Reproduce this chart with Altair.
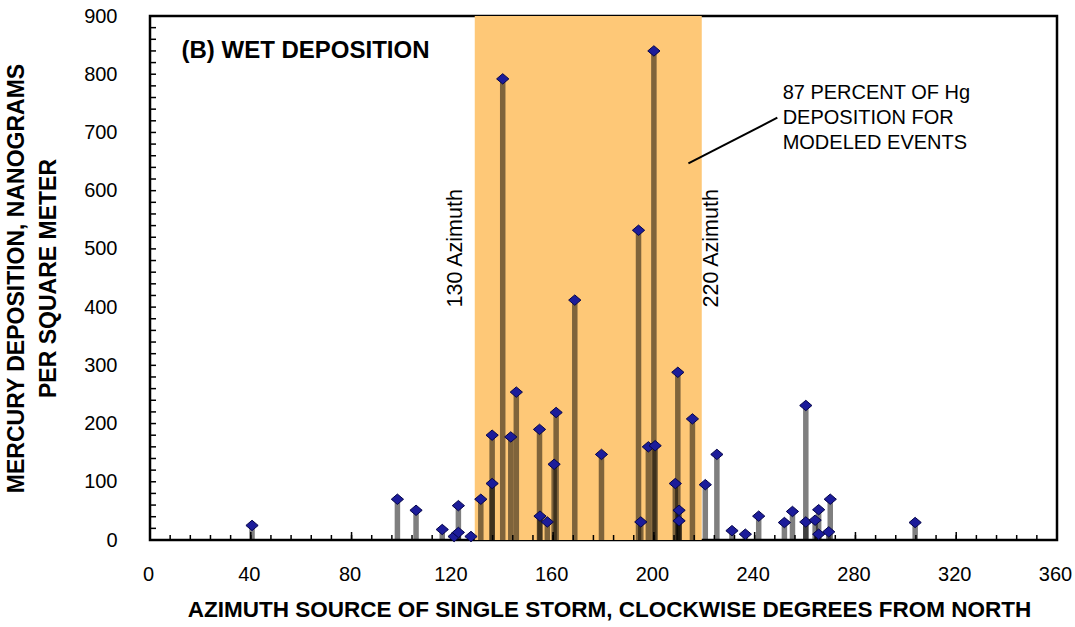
import altair as alt
import pandas as pd

# Data
azimuth = [40.5, 98.2, 105.6, 116.0, 120.7, 122.4, 122.4, 127.4, 131.3, 135.8,
           135.8, 140.0, 143.2, 145.4, 154.6, 154.8, 157.7, 160.4, 161.2, 168.6,
           179.2, 193.9, 194.8, 197.8, 200.0, 200.5, 208.5, 209.5, 210.0, 210.0,
           215.3, 220.4, 225.0, 231.0, 236.3, 241.6, 251.8, 255.0, 260.3, 260.3,
           264.0, 265.4, 265.4, 269.4, 270.0, 303.7]
deposition = [25, 70, 51, 18, 6, 59, 13, 6, 70, 180,
              97, 792, 177, 254, 190, 41, 31, 130, 219, 412,
              147, 532, 31, 160, 840, 162, 97, 288, 51, 33,
              208, 95, 147, 16, 10, 41, 30, 49, 231, 31,
              34, 52, 10, 14, 70, 30]

# shaded sector (as drawn)
band_start = [128.9]
band_end = [219.0]

x_label_values = [0, 40, 80, 120, 160, 200, 240, 280, 320, 360]
y_label_values = [0, 100, 200, 300, 400, 500, 600, 700, 800, 900]
x_minor_ticks = list(range(0, 361, 8))
y_minor_ticks = list(range(0, 901, 20))

FONT = "Liberation Sans"
W, H = 907, 524

df = pd.DataFrame({"az": azimuth, "dep": deposition})
band_df = pd.DataFrame({"start": band_start, "end": band_end})
xt_minor = pd.DataFrame({"t": x_minor_ticks})
xt_major = pd.DataFrame({"t": x_label_values})
yt_minor = pd.DataFrame({"t": y_minor_ticks})

xscale = alt.Scale(domain=[0, 360], nice=False, zero=False)
yscale = alt.Scale(domain=[0, 900], nice=False)

xaxis = alt.Axis(
    values=x_label_values, domain=False, ticks=False, grid=False,
    labelFont=FONT, labelFontSize=20, labelColor="black", labelPadding=24,
    labelBaseline="top", labelFlush=False, labelOffset=-2,
    title="AZIMUTH SOURCE OF SINGLE STORM, CLOCKWISE DEGREES FROM NORTH",
    titleFont=FONT, titleFontSize=22.5, titleFontWeight="bold", titleColor="black",
    titleBaseline="top", titleX=459, titleY=58, titleAnchor="middle",
)
yaxis = alt.Axis(
    values=y_label_values, domain=False, ticks=False, grid=False,
    labelFont=FONT, labelFontSize=20, labelColor="black", labelPadding=33,
    labelFlush=False,
    title=["MERCURY DEPOSITION, NANOGRAMS", "PER SQUARE METER"],
    titleFont=FONT, titleFontSize=23, titleFontWeight="bold", titleColor="black",
    titleLineHeight=32, titleBaseline="top", titleX=-145, titleY=262,
    titleAngle=270, titleAlign="center",
)

band = alt.Chart(band_df).mark_rect(color="#FEC877", opacity=1).encode(
    x=alt.X("start:Q", scale=xscale, axis=xaxis),
    x2="end:Q",
    y=alt.Y(datum=0, scale=yscale, axis=yaxis),
    y2=alt.datum(900),
)

stems = alt.Chart(df).mark_rule(color="black", opacity=0.5, strokeWidth=5.5).encode(
    x=alt.X("az:Q", scale=xscale),
    y=alt.Y("dep:Q", scale=yscale),
    y2=alt.datum(0),
)

xticks_minor = alt.Chart(xt_minor).mark_rule(color="black", strokeWidth=1.5).encode(
    x=alt.X("t:Q", scale=xscale), y=alt.value(H), y2=alt.value(H - 5),
)
xticks_major = alt.Chart(xt_major).mark_rule(color="black", strokeWidth=1.5).encode(
    x=alt.X("t:Q", scale=xscale), y=alt.value(H), y2=alt.value(H - 8),
)
yticks = alt.Chart(yt_minor).mark_rule(color="black", strokeWidth=1.5).encode(
    y=alt.Y("t:Q", scale=yscale), x=alt.value(0), x2=alt.value(6),
)

points = alt.Chart(df).mark_point(
    shape="M -1 0 L 0 -0.85 L 1 0 L 0 0.85 Z", filled=True, size=150,
    color="#1c1c9a", stroke="#05054a", strokeWidth=1, opacity=1,
).encode(
    x=alt.X("az:Q", scale=xscale),
    y=alt.Y("dep:Q", scale=yscale),
)

title_df = pd.DataFrame({"x": [12.5], "y": [828], "label": ["(B) WET DEPOSITION"]})
title_text = alt.Chart(title_df).mark_text(
    font=FONT, fontSize=24, fontWeight="bold", align="left",
    baseline="alphabetic", color="black",
).encode(x=alt.X("x:Q", scale=xscale), y=alt.Y("y:Q", scale=yscale), text="label:N")

az_df = pd.DataFrame({"x": [121.6, 223.0], "y": [501, 501],
                      "label": ["130 Azimuth", "220 Azimuth"]})
az_text = alt.Chart(az_df).mark_text(
    font=FONT, fontSize=21.5, angle=270, align="center", baseline="middle",
    color="black",
).encode(x=alt.X("x:Q", scale=xscale), y=alt.Y("y:Q", scale=yscale), text="label:N")

note_df = pd.DataFrame({"x": [251.1], "y": [757.5],
                        "label": ["87 PERCENT OF Hg\nDEPOSITION FOR\nMODELED EVENTS"]})
note_text = alt.Chart(note_df).mark_text(
    font=FONT, fontSize=20, align="left", baseline="alphabetic",
    lineBreak="\n", lineHeight=25, color="black",
).encode(x=alt.X("x:Q", scale=xscale), y=alt.Y("y:Q", scale=yscale), text="label:N")

leader_df = pd.DataFrame({"x1": [213.7], "y1": [647], "x2": [249.0], "y2": [725.4]})
leader = alt.Chart(leader_df).mark_rule(color="black", strokeWidth=2).encode(
    x=alt.X("x1:Q", scale=xscale), y=alt.Y("y1:Q", scale=yscale),
    x2="x2:Q", y2="y2:Q",
)

chart = alt.layer(
    band, stems, xticks_minor, xticks_major, yticks, points,
    title_text, az_text, note_text, leader
).properties(
    width=W, height=H,
    autosize=alt.AutoSizeParams(type="none"),
    padding={"left": 150, "top": 16, "right": 18, "bottom": 87},
    background="white",
).configure_view(
    stroke="black", strokeWidth=2.5,
)

chart.save("out.html", embed_options={"renderer": "svg", "actions": False})
